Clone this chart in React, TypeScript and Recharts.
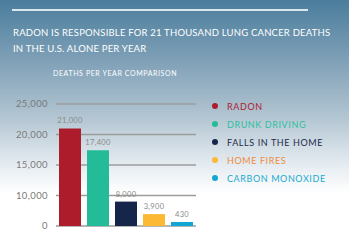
import { BarChart, Bar, XAxis, YAxis, CartesianGrid, Cell, LabelList } from 'recharts'

const categories = ['RADON', 'DRUNK DRIVING', 'FALLS IN THE HOME', 'HOME FIRES', 'CARBON MONOXIDE']
const deaths = [21000, 17400, 8000, 3900, 430]
const barColors = ['#ac1c2b', '#24bc98', '#15264a', '#fbb934', '#12a6d2']
const legendTextColors = ['#ad2232', '#2cc0a0', '#1c2b4b', '#ef8a3e', '#1aa9d0']
const yTicks = [0, 10000, 15000, 20000, 25000]

// the printed axis skips 5,000: first step is 0-10,000, then 5,000 per step
const toAxis = (v: number) => (v <= 10000 ? v / 2 : v - 5000)

const data = categories.map((name, i) => ({ name, value: toAxis(deaths[i]), deaths: deaths[i] }))

const font = 'Lato, "Open Sans", sans-serif'

function LegendList() {
  return (
    <div style={{ position: 'absolute', left: 212, top: 97, fontFamily: font }}>
      {categories.map((c, i) => (
        <div key={c} style={{ display: 'flex', alignItems: 'center', height: 18 }}>
          <span
            style={{
              width: 6,
              height: 6,
              borderRadius: 3,
              background: barColors[i],
              marginRight: 9,
            }}
          />
          <span style={{ color: legendTextColors[i], fontSize: 9, letterSpacing: 0.6 }}>{c}</span>
        </div>
      ))}
    </div>
  )
}

export default function App() {
  return (
    <div
      style={{
        position: 'absolute',
        left: 0,
        top: 0,
        width: 349,
        height: 241,
        overflow: 'hidden',
        background:
          'linear-gradient(180deg, #4a7d9c 0%, #7fa0b7 25%, #b1c4d1 48%, #e4ebf0 68%, #ffffff 80%)',
        fontFamily: font,
      }}
    >
      <div
        style={{ position: 'absolute', left: 12, top: 9, width: 296, height: 1.5, background: '#dbe7ee' }}
      />
      <div
        style={{
          position: 'absolute',
          left: 13,
          top: 25,
          color: '#ffffff',
          fontSize: 9.5,
          lineHeight: '16px',
          letterSpacing: 0.2,
        }}
      >
        RADON IS RESPONSIBLE FOR 21 THOUSAND LUNG CANCER DEATHS
        <br />
        IN THE U.S. ALONE PER YEAR
      </div>
      <div
        style={{
          position: 'absolute',
          left: 53,
          top: 69,
          color: '#ffffff',
          fontSize: 7,
          letterSpacing: 0.6,
        }}
      >
        DEATHS PER YEAR COMPARISON
      </div>
      <div style={{ position: 'absolute', left: 0, top: 0 }}>
        <BarChart
          width={349}
          height={241}
          data={data}
          margin={{ top: 104, right: 153, bottom: 15, left: 0 }}
          barSize={22}
        >
          <CartesianGrid vertical={false} stroke="#9c9c9c" strokeWidth={1.5} />
          <XAxis dataKey="name" hide />
          <YAxis
            width={56}
            domain={[0, 20000]}
            ticks={yTicks.map(toAxis)}
            tickFormatter={(v) => yTicks[yTicks.map(toAxis).indexOf(v)].toLocaleString('en-US')}
            axisLine={false}
            tickLine={false}
            tick={{ fill: '#7a7a7a', fontSize: 9.5, fontFamily: font, letterSpacing: 0.4 }}
          />
          <Bar dataKey="value" isAnimationActive={false} minPointSize={4}>
            {data.map((d, i) => (
              <Cell key={d.name} fill={barColors[i]} />
            ))}
            <LabelList
              dataKey="deaths"
              position="top"
              offset={5}
              fill="#8a8a8a"
              fontSize={7.5}
              fontFamily={font}
              letterSpacing={0.3}
              formatter={(v: any) => Number(v).toLocaleString('en-US')}
            />
          </Bar>
        </BarChart>
      </div>
      <LegendList />
    </div>
  )
}
